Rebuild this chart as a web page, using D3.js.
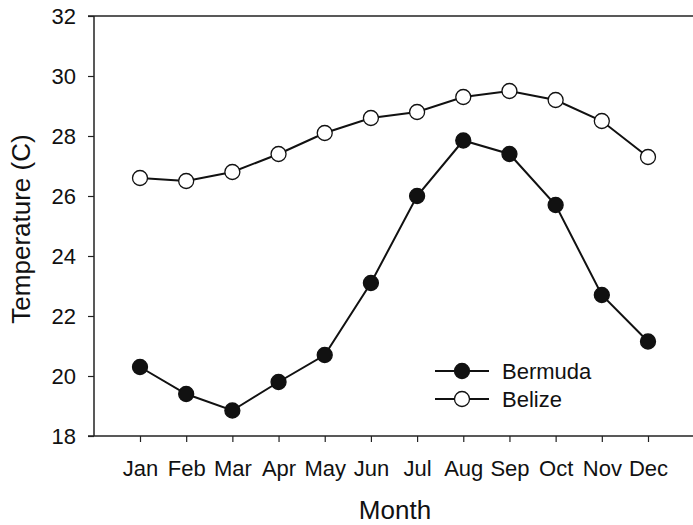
<!DOCTYPE html>
<html><head><meta charset="utf-8">
<script src="https://cdn.jsdelivr.net/npm/d3@7"></script>
<style>body{margin:0;background:#fff;} text{font-family:"Liberation Sans",Arial,sans-serif;fill:#111;}</style>
</head><body>
<svg id="c" width="693" height="525"></svg>
<script>
const months = ["Jan","Feb","Mar","Apr","May","Jun","Jul","Aug","Sep","Oct","Nov","Dec"];
const bermuda = [20.3,19.4,18.85,19.8,20.7,23.1,26.0,27.85,27.4,25.7,22.7,21.15];
const belize = [26.6,26.5,26.8,27.4,28.1,28.6,28.8,29.3,29.5,29.2,28.5,27.3];
const yTicks = [18,20,22,24,26,28,30,32];

(function () {
const svg = d3.select("#c");
const mLeft = 94, mRight = 693, mTop = 16, mBottom = 436;
const x = d3.scalePoint().domain(months).range([140, 648]);
const y = d3.scaleLinear().domain([18, 32]).range([mBottom, mTop]);

svg.append("line").attr("x1", 88).attr("x2", mRight).attr("y1", mTop).attr("y2", mTop)
  .attr("stroke", "#222").attr("stroke-width", 1.5);

const yAxis = svg.append("g").attr("transform", `translate(${mLeft},0)`)
  .call(d3.axisLeft(y).tickValues(yTicks).tickSize(6).tickPadding(12).tickFormat(d3.format("d")));
yAxis.select(".domain").attr("stroke", "#222").attr("stroke-width", 1.5).attr("d", `M0,${mTop}V${mBottom}`);
yAxis.selectAll(".tick line").attr("stroke", "#222").attr("stroke-width", 1.2);
yAxis.selectAll("text").style("font-size", "22px").attr("fill", "#111");

const xAxis = svg.append("g").attr("transform", `translate(0,${mBottom})`)
  .call(d3.axisBottom(x).tickSize(6).tickPadding(18));
xAxis.select(".domain").attr("stroke", "#222").attr("stroke-width", 1.5).attr("d", `M88,0H${mRight}`);
xAxis.selectAll(".tick line").attr("stroke", "#222").attr("stroke-width", 1.2);
xAxis.selectAll("text").style("font-size", "22px").attr("fill", "#111");

svg.append("text").attr("x", 395).attr("y", 519).attr("text-anchor", "middle")
  .style("font-size", "26px").text("Month");
svg.append("text").attr("transform", "translate(30,229) rotate(-90)").attr("text-anchor", "middle")
  .style("font-size", "26px").text("Temperature (C)");

const line = d3.line().x((d, i) => x(months[i])).y(d => y(d));
function series(data, fill) {
  svg.append("path").datum(data).attr("d", line).attr("fill", "none")
    .attr("stroke", "#111").attr("stroke-width", 2);
  svg.append("g").selectAll("circle").data(data).join("circle")
    .attr("cx", (d, i) => x(months[i])).attr("cy", d => y(d)).attr("r", 7.5)
    .attr("fill", fill).attr("stroke", "#111").attr("stroke-width", 1.3);
}
series(belize, "#fff");
series(bermuda, "#111");

const legend = [{name: "Bermuda", fill: "#111"}, {name: "Belize", fill: "#fff"}];
const lg = svg.append("g").selectAll("g").data(legend).join("g")
  .attr("transform", (d, i) => `translate(0,${371 + i * 28})`);
lg.append("line").attr("x1", 435).attr("x2", 489).attr("stroke", "#111").attr("stroke-width", 2);
lg.append("circle").attr("cx", 462).attr("r", 7.5).attr("fill", d => d.fill).attr("stroke", "#111").attr("stroke-width", 1.3);
lg.append("text").attr("x", 502).attr("y", 0).attr("dy", "0.35em").style("font-size", "22px").text(d => d.name);
})();
</script>
</body></html>
